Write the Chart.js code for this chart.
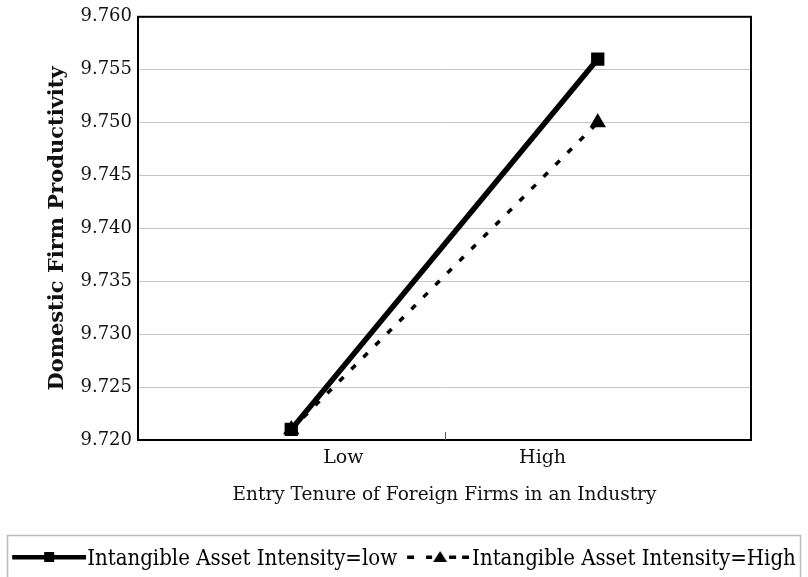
<!DOCTYPE html>
<html>
<head>
<meta charset="utf-8">
<script src="https://cdn.jsdelivr.net/npm/chart.js@4.4.1/dist/chart.umd.min.js"></script>
<style>
  html, body { margin: 0; padding: 0; background: #fff; }
  #wrap { width: 808px; height: 577px; position: relative; }
</style>
</head>
<body>
<div id="wrap"><canvas id="chart"></canvas></div>
<script>
const xLabels = ['Low', 'High'];
const lowIntensity = [9.721, 9.756];
const highIntensity = [9.721, 9.750];
const seriesNames = ['Intangible Asset Intensity=low', 'Intangible Asset Intensity=High'];
const yMin = 9.720, yMax = 9.760, yStep = 0.005;

const serif = '"DejaVu Serif", "Liberation Serif", serif';

// legend keys: line + marker drawn into a small canvas (used as pointStyle)
function swatch(dashed) {
  const c = document.createElement('canvas');
  c.width = dashed ? 80 : 84; c.height = 20;
  const g = c.getContext('2d');
  g.fillStyle = '#000';
  if (dashed) {
    const o = 18;
    [[0, 7], [19, 25], [42, 49], [55, 62]].forEach(([a, b]) => g.fillRect(o + a, 6.5, b - a, 3.5));
    g.beginPath(); g.moveTo(o + 33, 2); g.lineTo(o + 40, 13); g.lineTo(o + 26, 13); g.closePath(); g.fill();
  } else {
    const o = 10;
    g.fillRect(o, 6, 74, 4.5);
    g.fillRect(o + 32, 3, 10, 10);
  }
  return c;
}

const frame = {
  id: 'frame',
  afterDraw(chart) {
    const { ctx, chartArea: a, scales } = chart;
    ctx.save();
    ctx.strokeStyle = '#000';
    ctx.lineWidth = 2;
    ctx.strokeRect(a.left, a.top, a.right - a.left, a.bottom - a.top);
    // small inner tick between the two categories
    const mx = Math.round(scales.x.getPixelForValue(1)) + 0.5;
    ctx.lineWidth = 1;
    ctx.strokeStyle = '#555';
    ctx.beginPath(); ctx.moveTo(mx, a.bottom - 8); ctx.lineTo(mx, a.bottom); ctx.stroke();
    // legend frame
    const lg = chart.legend;
    ctx.strokeStyle = '#bdbdbd';
    ctx.lineWidth = 1.5;
    ctx.strokeRect(7.5, lg.top - 12.5, chart.width - 15, 60);
    ctx.restore();
  }
};

new Chart(document.getElementById('chart'), {
  type: 'line',
  data: {
    datasets: [
      {
        label: seriesNames[0],
        data: lowIntensity.map((v, i) => ({ x: i + 0.5, y: v })),
        borderColor: '#000', backgroundColor: '#000',
        borderWidth: 5.5, pointStyle: 'rect', pointRadius: 5.5,
        legendSwatch: swatch(false),
      },
      {
        label: seriesNames[1],
        data: highIntensity.map((v, i) => ({ x: i + 0.5, y: v })),
        borderColor: '#000', backgroundColor: '#000',
        borderWidth: 3.5, borderDash: [6, 11], pointStyle: 'triangle', pointRadius: 6,
        legendSwatch: swatch(true),
      },
    ],
  },
  options: {
    responsive: true,
    maintainAspectRatio: false,
    animation: false,
    layout: { padding: { top: 15, right: 0, left: 0, bottom: -3 } },
    scales: {
      x: {
        type: 'linear', min: 0, max: 2,
        afterBuildTicks: axis => { axis.ticks = [{ value: 0.67 }, { value: 1.32 }]; },
        ticks: {
          callback: (v, i) => xLabels[i],
          font: { family: serif, size: 19 }, color: '#111', padding: -1,
        },
        grid: { display: false },
        border: { display: false },
        title: {
          display: true, text: 'Entry Tenure of Foreign Firms in an Industry',
          font: { family: serif, size: 18.5 }, color: '#111', padding: { top: 15, bottom: 42 },
        },
      },
      y: {
        min: yMin, max: yMax,
        afterFit: s => { s.width = 138; },
        ticks: {
          stepSize: yStep,
          callback: v => v.toFixed(3),
          font: { family: serif, size: 18 }, color: '#111', padding: 6,
        },
        grid: { color: '#c4c4c4', lineWidth: 1, drawTicks: false },
        border: { display: false },
        title: {
          display: true, text: 'Domestic Firm Productivity',
          font: { family: serif, size: 21, weight: 'bold' }, color: '#111', padding: { top: 45, bottom: 5 },
        },
      },
      yRight: {
        position: 'right', min: 0, max: 1,
        afterFit: s => { s.width = 57; },
        ticks: { display: false },
        grid: { display: false },
        border: { display: false },
      },
    },
    plugins: {
      legend: {
        position: 'bottom',
        labels: {
          usePointStyle: true,
          pointStyleWidth: 64,
          boxHeight: 16,
          padding: 0,
          font: { family: '"DejaVu Serif Condensed", "DejaVu Serif", serif', size: 22 },
          color: '#111',
          generateLabels: chart => chart.data.datasets.map((ds, i) => ({
            text: ds.label, pointStyle: ds.legendSwatch, datasetIndex: i,
            fillStyle: '#000', strokeStyle: '#000', lineWidth: 0, hidden: false,
          })),
        },
      },
      tooltip: { enabled: false },
    },
  },
  plugins: [frame],
});
</script>
</body>
</html>
